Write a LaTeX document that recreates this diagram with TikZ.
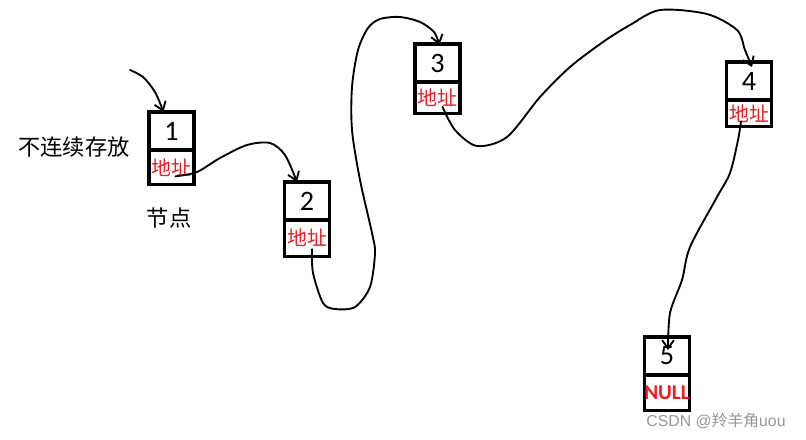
\documentclass[tikz,border=0pt]{standalone}
\usepackage{fontspec}
\setmainfont{Carlito}
\newfontfamily\cjk{Noto Sans CJK SC}
\newfontfamily\markfont{Liberation Sans}
\usetikzlibrary{positioning, arrows.meta, calc}
\definecolor{addrred}{RGB}{237,28,36}
\definecolor{markgray}{RGB}{150,150,150}

\begin{document}
\begin{tikzpicture}[
  x=0.03cm, y=-0.03cm,
  >={Straight Barb[length=7pt,width=10pt]},
  cell/.style={draw, line width=2.6pt, minimum width=1.35cm, minimum height=1.14cm,
    inner sep=0pt, outer sep=0pt, font=\fontsize{24}{24}\selectfont},
  addr/.style={cell, minimum height=1.04cm, text=addrred, font=\cjk\fontsize{17}{17}\selectfont},
  plain/.style={font=\cjk\fontsize{19}{19}\selectfont},
  link/.style={->, line width=1.6pt, line cap=round, line join=round}
]
  \useasboundingbox (0,0) rectangle (806,439);

  \node[cell] (n1) at (171.5,131) {1};
  \node[addr, below=0pt of n1] (a1) {地址};
  \node[cell] (n2) at (307,201) {2};
  \node[addr, below=0pt of n2, minimum height=1.09cm] (a2) {地址};
  \node[cell] (n3) at (437.5,63) {3};
  \node[addr, below=0pt of n3, minimum height=0.95cm] (a3) {地址};
  \node[cell] (n4) at (749,81) {4};
  \node[addr, below=0pt of n4, minimum height=0.8cm] (a4) {地址};
  \node[cell] (n5) at (667,356) {5};
  \node[addr, below=0pt of n5, minimum height=1.06cm,
    font=\bfseries\fontsize{18}{18}\selectfont] (a5) {NULL};

  \node[plain] (side) at (74,147) {不连续存放};
  \node[plain] (cap) at (169,218) {节点};
  \node[text=markgray, font=\markfont\fontsize{13.5}{13.5}\selectfont] (mark) at (716,421)
    {CSDN @{\cjk 羚羊角}uou};

  \coordinate (head) at (130,70);
  \coordinate (s1) at ($(a1.center)+(4,9)$);
  \coordinate (s2) at ($(a2.center)+(5,11)$);
  \coordinate (s3) at ($(a3.center)+(5,9)$);
  \coordinate (s4) at ($(a4.center)+(-8,8)$);
  \coordinate (t1) at ($(n1.north)+(-8,0)$);
  \coordinate (t2) at ($(n2.north)+(-10,0)$);
  \coordinate (t3) at ($(n3.north)+(2,1)$);
  \coordinate (t4) at ($(n4.north)+(3,5)$);
  \coordinate (t5) at ($(n5.north)+(1,13)$);

  \draw[link] plot[smooth] coordinates {(head) (143,77) (155,92) (t1)};
  \draw[link] plot[smooth] coordinates {(s1) (197,172) (220,158) (247,145) (270,143)
    (285,155) (t2)};
  \draw[link] plot[smooth] coordinates {(s2) (313,273) (323,303) (335,309) (355,307)
    (370,287) (375,253) (372,233) (360,180) (352,130) (352,87) (358,50) (368,28)
    (380,19) (400,17) (420,22) (434,32) (t3)};
  \draw[link] plot[smooth] coordinates {(s3) (455,130) (477,146) (507,137) (540,97)
    (570,67) (603,42) (630,25) (660,10) (707,14) (737,30) (745,50) (t4)};
  \draw[link] plot[smooth] coordinates {(s4) (738,140) (730,173) (717,197) (690,247)
    (682,280) (670,313) (t5)};
\end{tikzpicture}
\end{document}
